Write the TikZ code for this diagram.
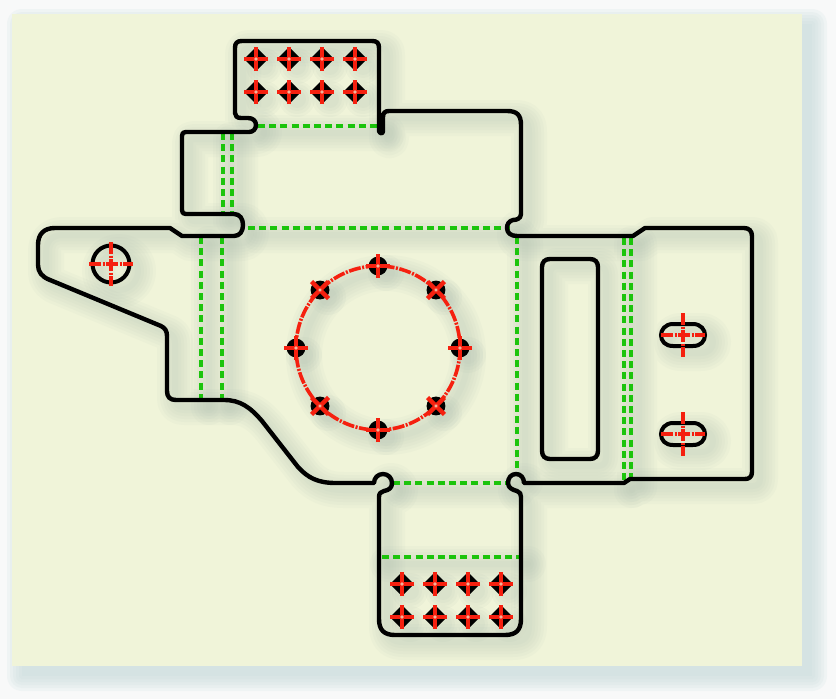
\documentclass[tikz,border=0pt]{standalone}
\usetikzlibrary{calc}
\definecolor{bgc}{HTML}{F8F9F9}
\definecolor{panelc}{HTML}{F0F4D9}
\definecolor{greenl}{HTML}{1CC40C}
\definecolor{redl}{HTML}{F5200F}
\definecolor{shadowc}{HTML}{AEBFB2}
\definecolor{pshadow}{HTML}{C6DADA}
\tikzset{
  x=1pt,y=-1pt,
  outline/.style={draw=black,line width=4.4pt,line join=round,line cap=round},
  holeline/.style={draw=black,line width=4pt},
  fold/.style={draw=greenl,line width=4pt,dash pattern=on 7pt off 4.2pt},
  centre/.style={draw=redl,line width=4.4pt},
  centred/.style={draw=redl,line width=4.4pt,dash pattern=on 12pt off 1.5pt on 2pt off 1.5pt},
  softs/.style={draw=shadowc,line join=round,line cap=round,opacity=0.07},
}
\newcommand{\outerpath}{
  (242,41) -- (372,41) .. controls (377,41) and (379,43) .. (379,48)
  -- (379,131) .. controls (380,134) and (383,134) .. (383,131)
  -- (383,117) .. controls (383,113) and (385,111) .. (389,111)
  -- (507,111) .. controls (517,111) and (521,115) .. (521,125)
  -- (521,214) .. controls (521,219) and (516,220) .. (513,220)
  .. controls (509,221) and (507,224) .. (507,228)
  .. controls (507,233) and (511,236) .. (517,236)
  -- (633,236) -- (645,228) -- (744,228)
  .. controls (749,228) and (752,231) .. (752,236)
  -- (752,472) .. controls (752,477) and (749,479) .. (745,479)
  -- (630,479) -- (624,483) -- (524,483)
  .. controls (524,478) and (521,474) .. (516,474)
  .. controls (511,474) and (508,478) .. (508,483)
  .. controls (508,488) and (513,490) .. (517,491)
  .. controls (520,492) and (521,494) .. (521,497)
  -- (521,619) .. controls (521,630) and (516,635) .. (505,635)
  -- (395,635) .. controls (384,635) and (379,630) .. (379,619)
  -- (379,497) .. controls (379,493) and (381,492) .. (384,491)
  .. controls (389,490) and (392,488) .. (392,483)
  .. controls (392,478) and (388,474) .. (383,474)
  .. controls (378,474) and (374,478) .. (374,483)
  -- (336,483) .. controls (318,483) and (308,478) .. (298,467)
  -- (262,421) .. controls (250,407) and (240,400) .. (224,400)
  -- (176,400) .. controls (170,400) and (167,397) .. (167,391)
  -- (167,336) .. controls (167,331) and (165,328) .. (161,326)
  -- (50,280) .. controls (42,277) and (38,272) .. (38,265)
  -- (38,245) .. controls (38,234) and (44,228) .. (55,228)
  -- (170,228) -- (182,236) -- (234,236)
  .. controls (240,236) and (243,231) .. (243,225)
  .. controls (243,219) and (240,214) .. (234,214)
  -- (186,214) .. controls (183,214) and (182,213) .. (182,210)
  -- (182,136) .. controls (182,133) and (183,132) .. (186,132)
  -- (249,132) .. controls (253,132) and (256,129) .. (256,125)
  .. controls (256,121) and (253,118) .. (248,118)
  -- (241,118) .. controls (237,118) and (235,116) .. (235,113)
  -- (235,48) .. controls (235,43) and (237,41) .. (242,41) -- cycle
}
\newcommand{\windowpath}{
  (550,259) -- (590,259) .. controls (595,259) and (598,262) .. (598,267)
  -- (598,451) .. controls (598,456) and (595,459) .. (590,459)
  -- (550,459) .. controls (545,459) and (542,456) .. (542,451)
  -- (542,267) .. controls (542,262) and (545,259) .. (550,259) -- cycle
}
\newcommand{\slotpaths}{
  (673,324) -- (693,324) .. controls (701,324) and (705,330) .. (705,335) .. controls (705,341) and (701,346) .. (693,346) -- (673,346) .. controls (665,346) and (661,341) .. (661,335) .. controls (661,330) and (665,324) .. (673,324) -- cycle
  (673,423) -- (693,423) .. controls (701,423) and (705,429) .. (705,434) .. controls (705,440) and (701,445) .. (693,445) -- (673,445) .. controls (665,445) and (661,440) .. (661,434) .. controls (661,429) and (665,423) .. (673,423) -- cycle
}
\newcommand{\innerpaths}{
  \windowpath \slotpaths
  (111,264) circle[radius=19]
  (255,126) -- (379,126) (223,133) -- (223,214) (232,133) -- (232,214)
  (248,228) -- (510,228) (201,237) -- (201,400) (222,237) -- (222,400)
  (517,236) -- (517,475) (393,483) -- (509,483) (380,557) -- (520,557)
  (624,237) -- (624,483) (631,237) -- (631,480)
  (378,348) circle[radius=82]
}
\newcommand{\crossmark}{
    \draw[centre] (-12,0) -- (12,0);
    \draw[centre] (0,-12) -- (0,12);
    \fill[panelc,opacity=.7] (0,0) circle[radius=1.8];
}
\newcommand{\smallhole}[3]{% x, y, rotation: round hole on the pitch circle
  \begin{scope}[shift={(#1,#2)},rotate=#3]
    \fill[black] (0,0) circle[radius=9.4];
    \crossmark
  \end{scope}
}
\newcommand{\gridhole}[2]{% x, y: hole of a tab's grid
  \begin{scope}[shift={(#1,#2)}]
    \fill[black,rounded corners=2.5pt] (-12,0) -- (0,-12) -- (12,0) -- (0,12) -- cycle;
    \crossmark
  \end{scope}
}
\newcommand{\softdot}[2]{
  \foreach \r in {18,15,12,9}{\fill[shadowc,opacity=.09] (#1,#2) circle[radius=\r];}
}
\begin{document}
\begin{tikzpicture}
\useasboundingbox (0,0) rectangle (836,699);
\fill[bgc] (0,0) rectangle (836,699);
% panel shadow
\foreach \g in {15,12,9,6,3,0}{
  \fill[pshadow,opacity=.16,rounded corners=\g pt] (12+10-\g,14+10-\g) rectangle (802+10+\g,666+10+\g);
}
\fill[panelc] (12,14) rectangle (802,666);
% soft shadow of the drawing
\begin{scope}[shift={(8,7)}]
  \foreach \w in {36,30,24,18,12,6}{
    \path[softs,line width=\w pt] \outerpath;
    \path[softs,line width=\w pt] \innerpaths;
  }
  \foreach \x in {256,289,322,355}{\foreach \y in {59,92}{\softdot{\x}{\y}}}
  \foreach \x in {402,435,468,501}{\foreach \y in {584,617}{\softdot{\x}{\y}}}
  \foreach \a in {0,45,...,315}{
    \pgfmathsetmacro{\hx}{378+82*cos(\a)}
    \pgfmathsetmacro{\hy}{348+82*sin(\a)}
    \softdot{\hx}{\hy}}
\end{scope}
% fold lines
\draw[fold] (258,126) -- (379,126);
\draw[fold] (223,133) -- (223,214);
\draw[fold] (232,133) -- (232,214);
\draw[fold] (248,228) -- (510,228);
\draw[fold] (201,237) -- (201,400);
\draw[fold] (222,237) -- (222,400);
\draw[fold] (517,237) -- (517,475);
\draw[fold] (393,483) -- (509,483);
\draw[fold] (382,557) -- (519,557);
\draw[fold] (624,238) -- (624,483);
\draw[fold] (631,238) -- (631,480);
% outline
\draw[outline] \outerpath;
\draw[outline] \windowpath;
% large holes
\draw[holeline] (111,264) circle[radius=18.5];
\draw[holeline] \slotpaths;
\draw[centred] (89,264) -- (133,264);
\draw[centred] (111,242) -- (111,286);
\draw[centred] (661,335) -- (705,335);
\draw[centred] (683,313) -- (683,357);
\draw[centred] (661,434) -- (705,434);
\draw[centred] (683,412) -- (683,456);
% pitch circle
\draw[redl,line width=3.6pt,dash pattern=on 12pt off 1.5pt on 2pt off 1.5pt] (378,348) circle[radius=82];
\foreach \a in {0,45,...,315}{
  \pgfmathsetmacro{\hx}{378+82*cos(\a)}
  \pgfmathsetmacro{\hy}{348+82*sin(\a)}
  \smallhole{\hx}{\hy}{\a}}
% hole grids
\foreach \x in {256,289,322,355}{\foreach \y in {59,92}{\gridhole{\x}{\y}}}
\foreach \x in {402,435,468,501}{\foreach \y in {584,617}{\gridhole{\x}{\y}}}
\end{tikzpicture}
\end{document}
